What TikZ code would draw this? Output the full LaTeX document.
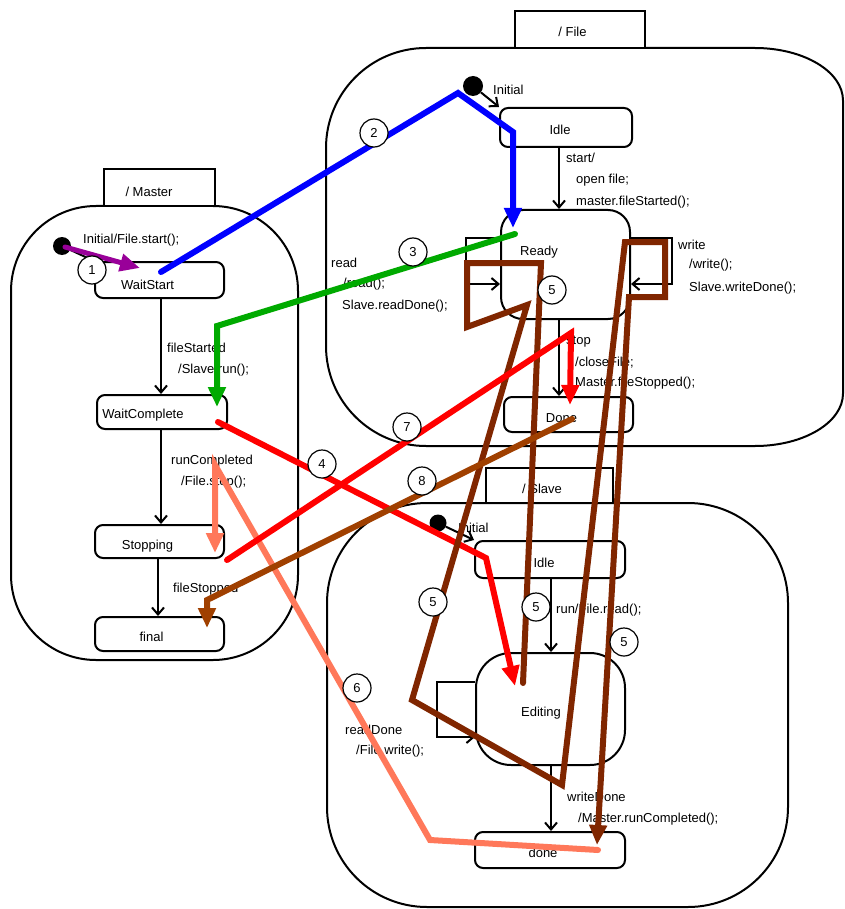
\documentclass[tikz,border=0pt]{standalone}
\usepackage{fontspec}
\setmainfont{Liberation Sans}
\usetikzlibrary{arrows.meta,calc}

\definecolor{tblue}{RGB}{0,0,255}
\definecolor{tgreen}{RGB}{0,170,0}
\definecolor{tred}{RGB}{255,0,0}
\definecolor{tpurple}{RGB}{153,0,153}
\definecolor{tsienna}{RGB}{160,64,0}
\definecolor{tbrown}{RGB}{128,38,0}
\definecolor{tsalmon}{RGB}{255,120,90}

\begin{document}
\begin{tikzpicture}[x=1pt,y=-1pt,
  every node/.style={font=\fontsize{13}{15}\selectfont},
  region/.style={line width=2pt},
  tab/.style={draw, line width=2pt, rectangle, inner sep=0pt},
  state/.style={draw, line width=2pt, rectangle, rounded corners=8pt, inner sep=0pt},
  init/.style={circle, fill=black, inner sep=0pt},
  lbl/.style={anchor=west, inner sep=0pt},
  ttl/.style={inner sep=0pt},
  trans/.style={line width=2pt, -{Straight Barb[length=7pt,width=12pt]}},
  hl/.style={line width=6pt, line cap=round, -{Triangle[length=20pt,width=17pt]}},
  num/.style={circle, draw, fill=white, line width=1.2pt, minimum size=28pt, inner sep=0pt},
]
\useasboundingbox (0,0) rectangle (844,909);
\fill[white] (0,0) rectangle (844,909);
\clip (0,0) rectangle (844,909);

% ---------- File region ----------
\draw[region] (426,48) -- (755,48)
  arc[start angle=-90, end angle=0, x radius=88, y radius=52.5] -- (843,393.5)
  arc[start angle=0, end angle=90, x radius=88, y radius=52.5] -- (426,446)
  arc[start angle=90, end angle=180, radius=100] -- (326,148)
  arc[start angle=180, end angle=270, radius=100] -- cycle;
\node[tab, fill=white, minimum width=130pt, minimum height=37pt] (fTab) at (580,29.5) {};
\node[ttl] at (572.5,32) {/ File};

\node[init, minimum size=20pt] (fInit) at (473,86) {};
\node[lbl] at (493,90) {Initial};
\node[state, minimum width=132pt, minimum height=39pt] (fIdle) at (566,127.5) {};
\node[ttl] at (560,130) {Idle};
\node[state, rounded corners=22pt, minimum width=129pt, minimum height=109pt] (fReady) at (565.5,264.5) {};
\node[lbl] at (520,252) {Ready};
\node[state, minimum width=129pt, minimum height=35pt] (fDone) at (568.5,414.5) {};
\node[ttl] at (561.5,418) {Done};

\coordinate (fcol) at (559,0);
\draw[trans] (fInit) -- (fIdle.north west);
\draw[trans] (fIdle.south -| fcol) -- (fReady.north -| fcol);
\draw[trans] (fReady.south -| fcol) -- (fDone.north -| fcol);
\draw[trans] ($(fReady.west)+(0,-26.5)$) -- ++(-34,0) -- ++(0,46) -- ($(fReady.west)+(0,19.5)$);
\draw[trans] ($(fReady.east)+(0,-26.5)$) -- ++(41,0) -- ++(0,46) -- ($(fReady.east)+(0,19.5)$);

\node[lbl] at (566,158) {start/};
\node[lbl] at (576,180) {open file;};
\node[lbl] at (576,202) {master.fileStarted();};
\node[lbl] at (331,263) {read};
\node[lbl] at (343,284) {/read();};
\node[lbl] at (342,306) {Slave.readDone();};
\node[lbl] at (678,245) {write};
\node[lbl] at (689,265) {/write();};
\node[lbl] at (689,288) {Slave.writeDone();};
\node[lbl] at (566,342) {stop};
\node[lbl] at (575,363) {/closeFile;};
\node[lbl] at (575,383) {Master.fileStopped();};

% ---------- Master region ----------
\draw[region, rounded corners=85pt] (11,206) rectangle (298,660);
\node[tab, fill=white, minimum width=111pt, minimum height=37pt] (mTab) at (159.5,187.5) {};
\node[ttl] at (149,192) {/ Master};

\node[init, minimum size=18pt] (mInit) at (62,246) {};
\node[lbl] at (83,240) {Initial/File.start();};
\node[state, minimum width=129pt, minimum height=36pt] (mWaitStart) at (159.5,280) {};
\node[ttl] at (147.5,285) {WaitStart};
\node[state, minimum width=130pt, minimum height=34pt] (mWaitComplete) at (162,412) {};
\node[ttl] at (143,415) {WaitComplete};
\node[state, minimum width=129pt, minimum height=33pt] (mStopping) at (159.5,541.5) {};
\node[ttl] at (147.5,546) {Stopping};
\node[state, minimum width=129pt, minimum height=34pt] (mFinal) at (159.5,634) {};
\node[ttl] at (151.5,637) {final};

\coordinate (mcol) at (161,0);
\coordinate (mcolb) at (158,0);
\draw[trans] (mInit) -- (mWaitStart.north west);
\draw[trans] (mWaitStart.south -| mcol) -- (mWaitComplete.north -| mcol);
\draw[trans] (mWaitComplete.south -| mcol) -- (mStopping.north -| mcol);
\draw[trans] (mStopping.south -| mcolb) -- (mFinal.north -| mcolb);

\node[lbl] at (167,348) {fileStarted};
\node[lbl] at (178,370) {/Slave.run();};
\node[lbl] at (171,461) {runCompleted};
\node[lbl] at (181,482) {/File.stop();};
\node[lbl] at (173,589) {fileStopped};

% ---------- Slave region ----------
\draw[region, rounded corners=100pt] (327,503) rectangle (788,907);
\node[tab, fill=white, minimum width=127pt, minimum height=35pt] (sTab) at (549.5,485.5) {};
\node[ttl] at (542,489) {/ Slave};

\node[init, minimum size=17pt] (sInit) at (438,523) {};
\node[lbl] at (458,528) {Initial};
\node[state, minimum width=150pt, minimum height=37pt] (sIdle) at (550,559.5) {};
\node[ttl] at (544,563) {Idle};
\node[state, rounded corners=35pt, minimum width=149pt, minimum height=112pt] (sEditing) at (550.5,709) {};
\node[ttl] at (541,713) {Editing};
\node[state, minimum width=150pt, minimum height=36pt] (sDone) at (550,850) {};
\node[ttl] at (543,853) {done};

\coordinate (scol) at (551,0);
\draw[trans] (sInit) -- (sIdle.north west);
\draw[trans] (sIdle.south -| scol) -- (sEditing.north -| scol);
\draw[trans] (sEditing.south -| scol) -- (sDone.north -| scol);
\draw[trans] ($(sEditing.west)+(0,-27)$) -- ++(-38,0) -- ++(0,55) -- ($(sEditing.west)+(0,28)$);

\node[lbl] at (556,610) {run/File.read();};
\node[lbl] at (345,730) {readDone};
\node[lbl] at (356,751) {/File.write();};
\node[lbl] at (567,797) {writeDone};
\node[lbl] at (578,819) {/Master.runCompleted();};

% ---------- highlighted message paths ----------
\draw[hl, tpurple, line width=5pt] ($(mInit.center)+(3,1)$) -- ($(mWaitStart.center)+(-19.5,-12)$);
\draw[hl, tblue] ($(mWaitStart.center)+(1.5,-8)$) -- (458,93) -- (513,132) -- ($(fReady.center)+(-52.5,-36.5)$);
\draw[hl, tgreen] ($(fReady.center)+(-50.5,-30.5)$) -- (217,326) -- ($(mWaitComplete.center)+(55,-5)$);
\draw[hl, tred] ($(mWaitComplete.center)+(56,10)$) -- (486,558) -- ($(sEditing.center)+(-35.5,-23)$);
\draw[hl, tbrown] ($(sEditing.center)+(-27.5,-26)$) -- (541,263) -- (467,263) -- (467,327) -- (527,305)
  -- (412,700) -- (562,785) -- (625,242) -- (665,242) -- (665,297) -- (629,297) -- ($(sDone.center)+(47,-5)$);
\draw[hl, tsalmon] ($(sDone.center)+(48,0)$) -- (430,840) -- (215,465) -- ($(mStopping.center)+(55.5,11.5)$);
\draw[hl, tred] ($(mStopping.center)+(67.5,18.5)$) -- (571,333) -- ($(fDone.center)+(1.5,-9.5)$);
\draw[hl, tsienna] ($(fDone.center)+(3.5,4.5)$) -- (207,600) -- ($(mFinal.center)+(47.5,-6)$);

% ---------- step numbers ----------
\node[num] (n1) at (92,270) {1};
\node[num] (n2) at (374,133) {2};
\node[num] (n3) at (413,252) {3};
\node[num] (n4) at (322,464) {4};
\node[num] (n5a) at (552,290) {5};
\node[num] (n5b) at (433,602) {5};
\node[num] (n5c) at (536,607) {5};
\node[num] (n5d) at (624,642) {5};
\node[num] (n6) at (357,688) {6};
\node[num] (n7) at (407,427) {7};
\node[num] (n8) at (422,481) {8};
\end{tikzpicture}
\end{document}
